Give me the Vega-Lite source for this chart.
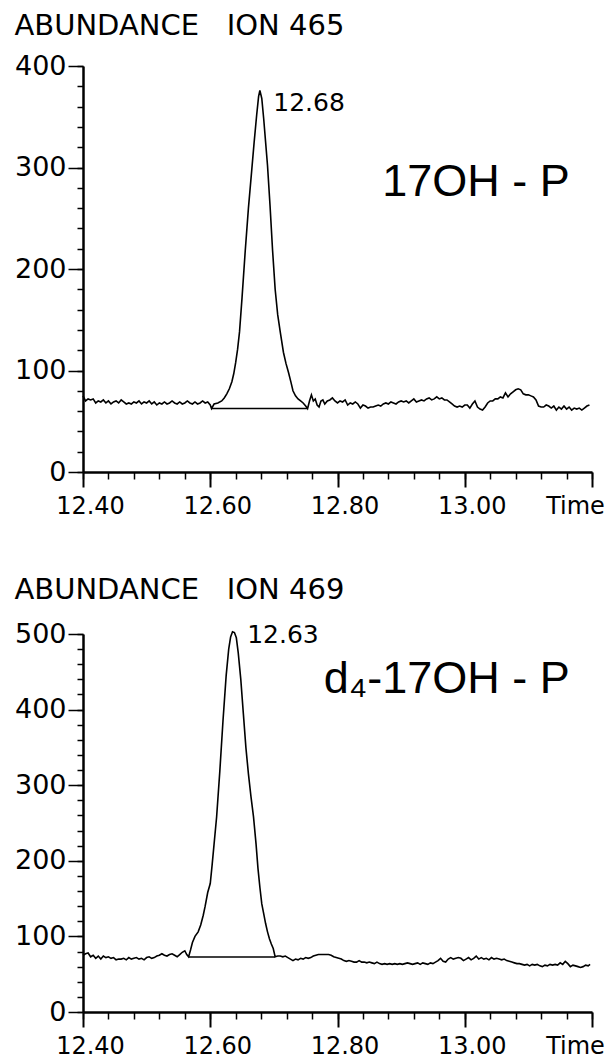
{
  "$schema": "https://vega.github.io/schema/vega-lite/v6.json",
  "padding": {"left": 14, "top": 12, "right": 5, "bottom": 5},
  "spacing": 58,
  "config": {
    "font": "DejaVu Sans",
    "view": {"stroke": null},
    "axis": {"domainColor": "black", "tickColor": "black", "labelColor": "black", "labelFont": "DejaVu Sans", "grid": false, "title": null},
    "title": {"font": "DejaVu Sans", "fontWeight": "normal", "color": "black"}
  },
  "datasets": {
    "t465": [
      {"t":12.400,"a":75},{"t":12.404,"a":70},{"t":12.408,"a":72},{"t":12.412,"a":71},{"t":12.416,"a":72},{"t":12.420,"a":68},{"t":12.424,"a":70},{"t":12.428,"a":69},{"t":12.432,"a":71},{"t":12.436,"a":68},{"t":12.440,"a":70},{"t":12.444,"a":67},{"t":12.448,"a":69},{"t":12.452,"a":70},{"t":12.456,"a":68},{"t":12.460,"a":71},{"t":12.464,"a":69},{"t":12.468,"a":67},{"t":12.472,"a":68},{"t":12.476,"a":67},{"t":12.480,"a":69},{"t":12.484,"a":68},{"t":12.488,"a":70},{"t":12.492,"a":67},{"t":12.496,"a":69},{"t":12.500,"a":68},{"t":12.504,"a":70},{"t":12.508,"a":67},{"t":12.512,"a":69},{"t":12.516,"a":66},{"t":12.520,"a":68},{"t":12.524,"a":67},{"t":12.528,"a":69},{"t":12.532,"a":67},{"t":12.536,"a":68},{"t":12.540,"a":70},{"t":12.544,"a":68},{"t":12.548,"a":67},{"t":12.552,"a":69},{"t":12.556,"a":67},{"t":12.560,"a":68},{"t":12.564,"a":70},{"t":12.568,"a":68},{"t":12.572,"a":67},{"t":12.576,"a":69},{"t":12.580,"a":67},{"t":12.584,"a":68},{"t":12.588,"a":70},{"t":12.592,"a":68},{"t":12.596,"a":69},{"t":12.600,"a":66},{"t":12.602,"a":62.5},{"t":12.606,"a":67},{"t":12.612,"a":68},{"t":12.618,"a":70},{"t":12.622,"a":73},{"t":12.626,"a":77},{"t":12.630,"a":82},{"t":12.634,"a":89},{"t":12.637,"a":97},{"t":12.640,"a":108},{"t":12.643,"a":121},{"t":12.646,"a":138},{"t":12.650,"a":172},{"t":12.655,"a":218},{"t":12.660,"a":260},{"t":12.665,"a":296},{"t":12.669,"a":325},{"t":12.673,"a":352},{"t":12.676,"a":370},{"t":12.678,"a":376},{"t":12.681,"a":368},{"t":12.684,"a":348},{"t":12.687,"a":325},{"t":12.690,"a":302},{"t":12.694,"a":262},{"t":12.698,"a":218},{"t":12.702,"a":180},{"t":12.706,"a":155},{"t":12.710,"a":138},{"t":12.715,"a":118},{"t":12.719,"a":107},{"t":12.723,"a":98},{"t":12.727,"a":88},{"t":12.730,"a":80},{"t":12.734,"a":75},{"t":12.738,"a":72},{"t":12.742,"a":70},{"t":12.746,"a":68},{"t":12.750,"a":65},{"t":12.753,"a":62.5},{"t":12.756,"a":70},{"t":12.759,"a":76},{"t":12.762,"a":70},{"t":12.765,"a":72},{"t":12.768,"a":66},{"t":12.771,"a":64},{"t":12.774,"a":70},{"t":12.777,"a":71},{"t":12.780,"a":67},{"t":12.784,"a":70},{"t":12.788,"a":71},{"t":12.792,"a":73},{"t":12.796,"a":70},{"t":12.800,"a":68},{"t":12.804,"a":70},{"t":12.808,"a":69},{"t":12.812,"a":71},{"t":12.816,"a":66},{"t":12.820,"a":68},{"t":12.824,"a":67},{"t":12.828,"a":69},{"t":12.832,"a":67},{"t":12.836,"a":63},{"t":12.840,"a":66},{"t":12.844,"a":65},{"t":12.848,"a":63},{"t":12.852,"a":64},{"t":12.856,"a":64},{"t":12.860,"a":65},{"t":12.864,"a":66},{"t":12.868,"a":65},{"t":12.872,"a":67},{"t":12.876,"a":68},{"t":12.880,"a":67},{"t":12.884,"a":69},{"t":12.888,"a":68},{"t":12.892,"a":67},{"t":12.896,"a":69},{"t":12.900,"a":70},{"t":12.904,"a":69},{"t":12.908,"a":70},{"t":12.912,"a":68},{"t":12.916,"a":70},{"t":12.920,"a":72},{"t":12.924,"a":69},{"t":12.928,"a":70},{"t":12.932,"a":71},{"t":12.936,"a":70},{"t":12.940,"a":72},{"t":12.944,"a":73},{"t":12.948,"a":71},{"t":12.952,"a":72},{"t":12.956,"a":74},{"t":12.960,"a":72},{"t":12.964,"a":73},{"t":12.968,"a":71},{"t":12.972,"a":71},{"t":12.976,"a":69},{"t":12.980,"a":67},{"t":12.984,"a":65},{"t":12.988,"a":64},{"t":12.992,"a":65},{"t":12.996,"a":64},{"t":13.000,"a":66},{"t":13.004,"a":66},{"t":13.008,"a":63},{"t":13.012,"a":67},{"t":13.016,"a":70},{"t":13.020,"a":64},{"t":13.024,"a":62},{"t":13.028,"a":61},{"t":13.032,"a":64},{"t":13.036,"a":68},{"t":13.040,"a":70},{"t":13.044,"a":70},{"t":13.048,"a":72},{"t":13.052,"a":72},{"t":13.056,"a":74},{"t":13.060,"a":73},{"t":13.064,"a":78},{"t":13.068,"a":74},{"t":13.072,"a":77},{"t":13.076,"a":79},{"t":13.080,"a":81},{"t":13.084,"a":82},{"t":13.088,"a":81},{"t":13.092,"a":77},{"t":13.096,"a":76},{"t":13.100,"a":76},{"t":13.104,"a":75},{"t":13.108,"a":74},{"t":13.112,"a":71},{"t":13.116,"a":65},{"t":13.120,"a":64},{"t":13.124,"a":64},{"t":13.128,"a":66},{"t":13.132,"a":65},{"t":13.136,"a":63},{"t":13.140,"a":65},{"t":13.144,"a":61},{"t":13.148,"a":64},{"t":13.152,"a":62},{"t":13.156,"a":65},{"t":13.160,"a":62},{"t":13.164,"a":64},{"t":13.168,"a":61},{"t":13.172,"a":63},{"t":13.176,"a":62},{"t":13.180,"a":63},{"t":13.184,"a":61},{"t":13.188,"a":63},{"t":13.192,"a":65},{"t":13.196,"a":66}
    ],
    "b465": [{"t1": 12.602, "t2": 12.753, "a": 62.5}],
    "p465": [{"t": 12.699, "a": 364, "label": "12.68"}],
    "n465": [{"t": 13.165, "a": 286, "label": "17OH - P"}],
    "t469": [
      {"t":12.400,"a":75},{"t":12.404,"a":77},{"t":12.408,"a":78},{"t":12.412,"a":73},{"t":12.416,"a":75},{"t":12.420,"a":71},{"t":12.424,"a":74},{"t":12.428,"a":70},{"t":12.432,"a":74},{"t":12.436,"a":72},{"t":12.440,"a":73},{"t":12.444,"a":71},{"t":12.448,"a":72},{"t":12.452,"a":69},{"t":12.456,"a":70},{"t":12.460,"a":70},{"t":12.464,"a":71},{"t":12.468,"a":69},{"t":12.472,"a":72},{"t":12.476,"a":70},{"t":12.480,"a":71},{"t":12.484,"a":72},{"t":12.488,"a":70},{"t":12.492,"a":71},{"t":12.496,"a":69},{"t":12.500,"a":72},{"t":12.504,"a":73},{"t":12.508,"a":71},{"t":12.512,"a":72},{"t":12.516,"a":74},{"t":12.520,"a":75},{"t":12.524,"a":77},{"t":12.528,"a":75},{"t":12.532,"a":74},{"t":12.536,"a":76},{"t":12.540,"a":77},{"t":12.544,"a":75},{"t":12.548,"a":73},{"t":12.552,"a":76},{"t":12.556,"a":79},{"t":12.560,"a":81},{"t":12.563,"a":76},{"t":12.566,"a":73},{"t":12.569,"a":82},{"t":12.572,"a":92},{"t":12.576,"a":100},{"t":12.581,"a":106},{"t":12.585,"a":115},{"t":12.589,"a":128},{"t":12.592,"a":140},{"t":12.596,"a":158},{"t":12.600,"a":170},{"t":12.603,"a":195},{"t":12.606,"a":222},{"t":12.610,"a":258},{"t":12.615,"a":318},{"t":12.620,"a":385},{"t":12.625,"a":445},{"t":12.629,"a":480},{"t":12.632,"a":496},{"t":12.635,"a":503},{"t":12.638,"a":502},{"t":12.641,"a":495},{"t":12.644,"a":475},{"t":12.648,"a":440},{"t":12.652,"a":395},{"t":12.656,"a":350},{"t":12.660,"a":315},{"t":12.664,"a":285},{"t":12.668,"a":258},{"t":12.672,"a":222},{"t":12.675,"a":190},{"t":12.678,"a":165},{"t":12.681,"a":143},{"t":12.684,"a":130},{"t":12.687,"a":117},{"t":12.690,"a":106},{"t":12.693,"a":97},{"t":12.696,"a":90},{"t":12.699,"a":84},{"t":12.702,"a":73},{"t":12.706,"a":74},{"t":12.710,"a":74},{"t":12.714,"a":73},{"t":12.718,"a":74},{"t":12.722,"a":72},{"t":12.726,"a":70},{"t":12.730,"a":68},{"t":12.734,"a":70},{"t":12.738,"a":69},{"t":12.742,"a":71},{"t":12.746,"a":70},{"t":12.750,"a":72},{"t":12.754,"a":71},{"t":12.758,"a":72},{"t":12.762,"a":74},{"t":12.766,"a":75},{"t":12.770,"a":76},{"t":12.774,"a":76},{"t":12.778,"a":76},{"t":12.782,"a":76},{"t":12.786,"a":76},{"t":12.790,"a":75},{"t":12.794,"a":73},{"t":12.798,"a":72},{"t":12.802,"a":71},{"t":12.806,"a":70},{"t":12.810,"a":68},{"t":12.814,"a":67},{"t":12.818,"a":68},{"t":12.822,"a":67},{"t":12.826,"a":66},{"t":12.830,"a":66},{"t":12.834,"a":68},{"t":12.838,"a":66},{"t":12.842,"a":66},{"t":12.846,"a":65},{"t":12.850,"a":66},{"t":12.854,"a":65},{"t":12.858,"a":64},{"t":12.862,"a":66},{"t":12.866,"a":64},{"t":12.870,"a":63},{"t":12.874,"a":64},{"t":12.878,"a":63},{"t":12.882,"a":64},{"t":12.886,"a":63},{"t":12.890,"a":64},{"t":12.894,"a":63},{"t":12.898,"a":64},{"t":12.902,"a":63},{"t":12.906,"a":64},{"t":12.910,"a":65},{"t":12.914,"a":64},{"t":12.918,"a":63},{"t":12.922,"a":64},{"t":12.926,"a":65},{"t":12.930,"a":63},{"t":12.934,"a":65},{"t":12.938,"a":64},{"t":12.942,"a":63},{"t":12.946,"a":65},{"t":12.950,"a":64},{"t":12.954,"a":66},{"t":12.958,"a":68},{"t":12.962,"a":71},{"t":12.966,"a":67},{"t":12.970,"a":66},{"t":12.974,"a":70},{"t":12.978,"a":72},{"t":12.982,"a":70},{"t":12.986,"a":71},{"t":12.990,"a":72},{"t":12.994,"a":71},{"t":12.998,"a":68},{"t":13.002,"a":70},{"t":13.006,"a":72},{"t":13.010,"a":69},{"t":13.014,"a":71},{"t":13.018,"a":74},{"t":13.022,"a":70},{"t":13.026,"a":72},{"t":13.030,"a":70},{"t":13.034,"a":71},{"t":13.038,"a":69},{"t":13.042,"a":72},{"t":13.046,"a":70},{"t":13.050,"a":71},{"t":13.054,"a":70},{"t":13.058,"a":69},{"t":13.062,"a":70},{"t":13.066,"a":68},{"t":13.070,"a":67},{"t":13.074,"a":66},{"t":13.078,"a":65},{"t":13.082,"a":64},{"t":13.086,"a":64},{"t":13.090,"a":63},{"t":13.094,"a":62},{"t":13.098,"a":63},{"t":13.102,"a":61},{"t":13.106,"a":63},{"t":13.110,"a":62},{"t":13.114,"a":63},{"t":13.118,"a":61},{"t":13.122,"a":60},{"t":13.126,"a":62},{"t":13.130,"a":61},{"t":13.134,"a":63},{"t":13.138,"a":62},{"t":13.142,"a":63},{"t":13.146,"a":62},{"t":13.150,"a":65},{"t":13.154,"a":63},{"t":13.158,"a":67},{"t":13.162,"a":64},{"t":13.166,"a":60},{"t":13.170,"a":62},{"t":13.174,"a":61},{"t":13.178,"a":60},{"t":13.182,"a":59},{"t":13.186,"a":60},{"t":13.190,"a":62},{"t":13.194,"a":61},{"t":13.197,"a":63}
    ],
    "b469": [{"t1": 12.566, "t2": 12.702, "a": 72.8}],
    "p469": [{"t": 12.658, "a": 499, "label": "12.63"}],
    "n469": [{"t": 13.165, "a": 440, "label": "d₄-17OH - P"}]
  },
  "vconcat": [
    {
      "width": 509,
      "height": 406,
      "title": {"text": "ABUNDANCE\u00a0\u00a0\u00a0ION 465", "anchor": "start", "frame": "bounds", "fontSize": 29, "offset": 11},
      "resolve": {"axis": {"x": "independent", "y": "independent"}},
      "layer": [
        {
          "data": {"name": "t465"},
          "mark": {"type": "line", "color": "black", "strokeWidth": 1.6},
          "encoding": {
            "x": {"field": "t", "type": "quantitative", "scale": {"domain": [12.4, 13.2], "nice": false, "zero": false},
                  "axis": {"orient": "bottom", "values": [12.4, 12.6, 12.8, 13.0, 13.2], "tickSize": 15, "tickWidth": 2, "domainWidth": 2.5, "labelFontSize": 24, "labelPadding": 7, "labelOverlap": false, "labelFlush": false, "labelExpr": "datum.value > 13.1 ? 'Time' : format(datum.value, '.2f')", "labelOffset": {"condition": {"test": "datum.value > 13.1", "value": -17}, "value": 7}}},
            "y": {"field": "a", "type": "quantitative", "scale": {"domain": [0, 400], "nice": false},
                  "axis": {"orient": "left", "values": [0, 100, 200, 300, 400], "tickSize": 15, "tickWidth": 1.5, "domainWidth": 2.5, "labelFontSize": 27, "labelPadding": 2, "labelBaseline": "middle"}}
          }
        },
        {
          "data": {"name": "b465"},
          "mark": {"type": "rule", "color": "black", "strokeWidth": 1.5},
          "encoding": {
            "x": {"field": "t1", "type": "quantitative", "axis": {"orient": "bottom", "values": [12.4,12.44,12.48,12.52,12.56,12.6,12.64,12.68,12.72,12.76,12.8,12.84,12.88,12.92,12.96,13.0,13.04,13.08,13.12,13.16,13.2], "tickSize": 7, "tickWidth": 1.5, "labels": false, "domain": false}},
            "x2": {"field": "t2"},
            "y": {"field": "a", "type": "quantitative", "axis": {"orient": "left", "values": [0,20,40,60,80,100,120,140,160,180,200,220,240,260,280,300,320,340,360,380,400], "tickSize": 6, "tickWidth": 1.5, "labels": false, "domain": false}}
          }
        },
        {
          "data": {"name": "p465"},
          "mark": {"type": "text", "align": "left", "baseline": "middle", "color": "black", "font": "DejaVu Sans", "fontSize": 25},
          "encoding": {
            "x": {"field": "t", "type": "quantitative", "axis": null},
            "y": {"field": "a", "type": "quantitative", "axis": null},
            "text": {"field": "label"}
          }
        },
        {
          "data": {"name": "n465"},
          "mark": {"type": "text", "align": "right", "baseline": "middle", "color": "black", "font": "Liberation Sans", "fontSize": 45},
          "encoding": {
            "x": {"field": "t", "type": "quantitative", "axis": null},
            "y": {"field": "a", "type": "quantitative", "axis": null},
            "text": {"field": "label"}
          }
        }
      ]
    },
    {
      "width": 509,
      "height": 378,
      "title": {"text": "ABUNDANCE\u00a0\u00a0\u00a0ION 469", "anchor": "start", "frame": "bounds", "fontSize": 29, "offset": 15},
      "resolve": {"axis": {"x": "independent", "y": "independent"}},
      "layer": [
        {
          "data": {"name": "t469"},
          "mark": {"type": "line", "color": "black", "strokeWidth": 1.6},
          "encoding": {
            "x": {"field": "t", "type": "quantitative", "scale": {"domain": [12.4, 13.2], "nice": false, "zero": false},
                  "axis": {"orient": "bottom", "values": [12.4, 12.6, 12.8, 13.0, 13.2], "tickSize": 15, "tickWidth": 2, "domainWidth": 2.5, "labelFontSize": 24, "labelPadding": 7, "labelOverlap": false, "labelFlush": false, "labelExpr": "datum.value > 13.1 ? 'Time' : format(datum.value, '.2f')", "labelOffset": {"condition": {"test": "datum.value > 13.1", "value": -17}, "value": 7}}},
            "y": {"field": "a", "type": "quantitative", "scale": {"domain": [0, 500], "nice": false},
                  "axis": {"orient": "left", "values": [0, 100, 200, 300, 400, 500], "tickSize": 15, "tickWidth": 1.5, "domainWidth": 2.5, "labelFontSize": 27, "labelPadding": 2, "labelBaseline": "middle"}}
          }
        },
        {
          "data": {"name": "b469"},
          "mark": {"type": "rule", "color": "black", "strokeWidth": 1.5},
          "encoding": {
            "x": {"field": "t1", "type": "quantitative", "axis": {"orient": "bottom", "values": [12.4,12.44,12.48,12.52,12.56,12.6,12.64,12.68,12.72,12.76,12.8,12.84,12.88,12.92,12.96,13.0,13.04,13.08,13.12,13.16,13.2], "tickSize": 7, "tickWidth": 1.5, "labels": false, "domain": false}},
            "x2": {"field": "t2"},
            "y": {"field": "a", "type": "quantitative", "axis": {"orient": "left", "values": [0,20,40,60,80,100,120,140,160,180,200,220,240,260,280,300,320,340,360,380,400,420,440,460,480,500], "tickSize": 6, "tickWidth": 1.5, "labels": false, "domain": false}}
          }
        },
        {
          "data": {"name": "p469"},
          "mark": {"type": "text", "align": "left", "baseline": "middle", "color": "black", "font": "DejaVu Sans", "fontSize": 25},
          "encoding": {
            "x": {"field": "t", "type": "quantitative", "axis": null},
            "y": {"field": "a", "type": "quantitative", "axis": null},
            "text": {"field": "label"}
          }
        },
        {
          "data": {"name": "n469"},
          "mark": {"type": "text", "align": "right", "baseline": "middle", "color": "black", "font": "Liberation Sans", "fontSize": 45},
          "encoding": {
            "x": {"field": "t", "type": "quantitative", "axis": null},
            "y": {"field": "a", "type": "quantitative", "axis": null},
            "text": {"field": "label"}
          }
        }
      ]
    }
  ]
}
